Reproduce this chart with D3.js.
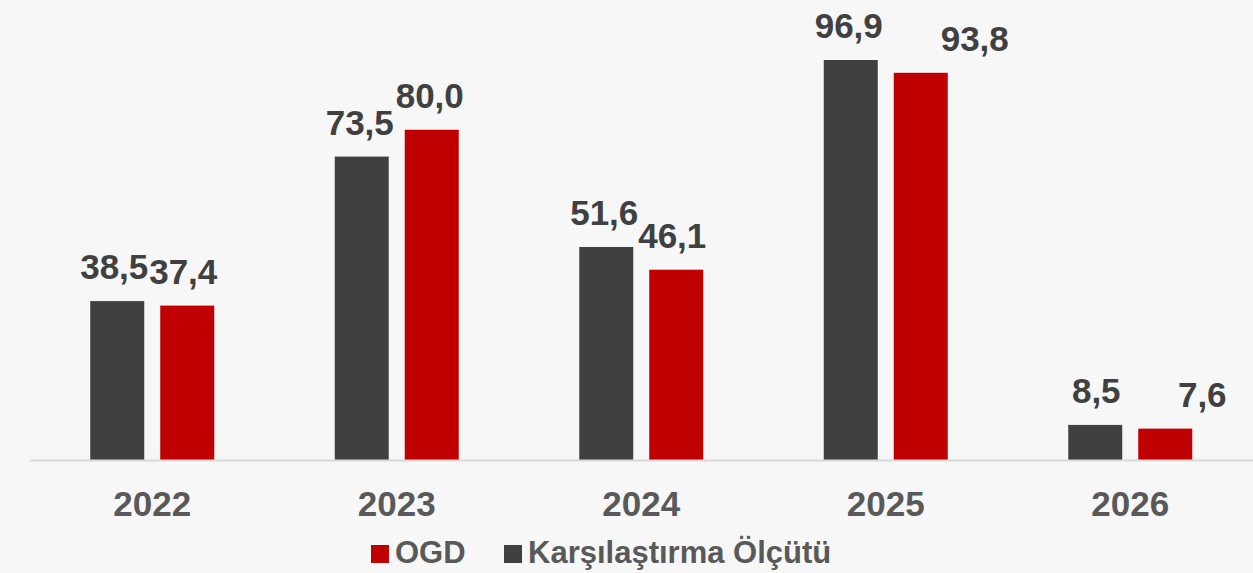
<!DOCTYPE html>
<html>
<head>
<meta charset="utf-8">
<script src="https://cdn.jsdelivr.net/npm/d3@7/dist/d3.min.js"></script>
<style>
  html, body { margin: 0; padding: 0; background: #f7f7f7; }
  svg { display: block; font-family: "Liberation Sans", Arial, sans-serif; font-weight: bold; }
</style>
</head>
<body>
<div id="chart"></div>
<script>
const years = ["2022", "2023", "2024", "2025", "2026"];
const benchmarkValues = [38.5, 73.5, 51.6, 96.9, 8.5];   // Karşılaştırma Ölçütü
const ogdValues = [37.4, 80.0, 46.1, 93.8, 7.6];         // OGD
const seriesNames = ["OGD", "Karşılaştırma Ölçütü"];

const width = 1253, height = 573;
const baseY = 460;

// label nudges (red labels of 2025 and 2026 are pushed right)
const ogdLabelShift = [-4, -2, -4, 54, 37];
const benchLabelShift = [-3, -2, -2, -2, 1];

const svg = d3.select("#chart")
    .append("svg")
    .attr("width", width)
    .attr("height", height);

svg.append("rect")
    .attr("width", width)
    .attr("height", height)
    .attr("fill", "#f7f7f7");

let x = d3.scaleBand()
    .domain(years)
    .range([30, 1252.5]);

let y = d3.scaleLinear()
    .domain([0, 96.9])
    .range([baseY, 60]);

const barW = 54, innerGap = 16;
const groupW = barW * 2 + innerGap;

function barX(i, k) {
    return x(years[i]) + (x.bandwidth() - groupW) / 2 + k * (barW + innerGap);
}

const series = [
    {values: benchmarkValues, color: "#404040", shift: benchLabelShift},
    {values: ogdValues, color: "#c00000", shift: ogdLabelShift}
];

series.forEach(function (s, k) {
    svg.append("g")
        .selectAll("rect")
        .data(s.values)
        .enter()
        .append("rect")
        .attr("x", (d, i) => barX(i, k))
        .attr("y", d => y(d))
        .attr("width", barW)
        .attr("height", d => baseY - y(d))
        .attr("fill", s.color);

    svg.append("g")
        .selectAll("text")
        .data(s.values)
        .enter()
        .append("text")
        .attr("x", (d, i) => barX(i, k) + barW / 2 + s.shift[i])
        .attr("y", d => y(d) - 22)
        .attr("text-anchor", "middle")
        .style("font-size", "35px")
        .style("fill", "#404040")
        .text(d => d.toFixed(1).replace(".", ","));
});

// x axis
let xAxis = d3.axisBottom(x).tickSize(0).tickPadding(0);
let axisG = svg.append("g")
    .attr("transform", "translate(0," + (baseY + 0.5) + ")")
    .call(xAxis);
axisG.select(".domain")
    .attr("d", "M30,0H1253")
    .attr("stroke", "#d9d9d9")
    .attr("stroke-width", 2);
axisG.selectAll("text")
    .attr("y", 55)
    .attr("dy", 0)
    .style("font-size", "35px")
    .style("font-family", "'Liberation Sans', Arial, sans-serif")
    .style("font-weight", "bold")
    .style("fill", "#595959");

// legend
const legendItems = [
    {name: seriesNames[0], color: "#c00000", x: 371},
    {name: seriesNames[1], color: "#404040", x: 504}
];
let legend = svg.append("g")
    .selectAll("g")
    .data(legendItems)
    .enter()
    .append("g")
    .attr("transform", d => "translate(" + d.x + ",0)");
legend.append("rect")
    .attr("x", 0)
    .attr("y", 545)
    .attr("width", 18)
    .attr("height", 18)
    .attr("fill", d => d.color);
legend.append("text")
    .attr("x", 24)
    .attr("y", 563)
    .style("font-size", "31px")
    .style("fill", "#595959")
    .text(d => d.name);
</script>
</body>
</html>
